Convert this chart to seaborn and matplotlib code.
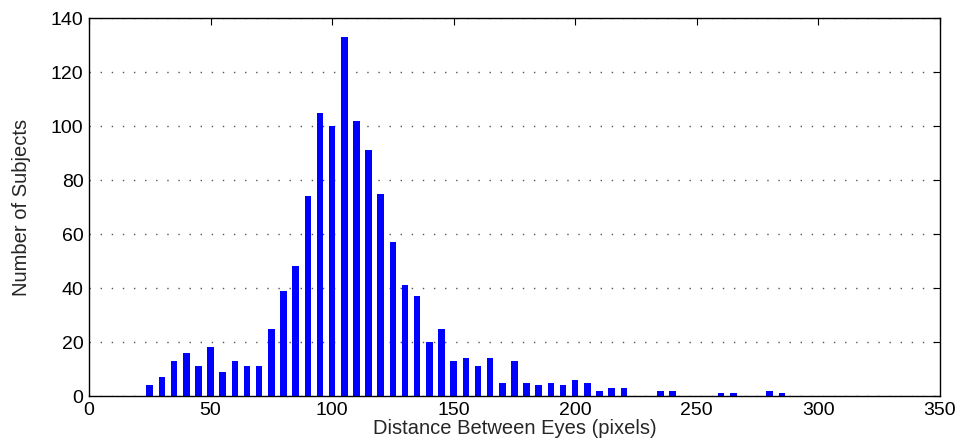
import matplotlib
matplotlib.use("Agg")
import matplotlib.pyplot as plt
import seaborn as sns
import pandas as pd

distance = [25, 30, 35, 40, 45, 50, 55, 60, 65, 70, 75, 80, 85, 90, 95, 100,
            105, 110, 115, 120, 125, 130, 135, 140, 145, 150, 155, 160, 165,
            170, 175, 180, 185, 190, 195, 200, 205, 210, 215, 220, 235, 240,
            260, 265, 280, 285]
subjects = [4, 7, 13, 16, 11, 18, 9, 13, 11, 11, 25, 39, 48, 74, 105, 100,
            133, 102, 91, 75, 57, 41, 37, 20, 25, 13, 14, 11, 14,
            5, 13, 5, 4, 5, 4, 6, 5, 2, 3, 3, 2, 2,
            1, 1, 2, 1]
x_ticks = [0, 50, 100, 150, 200, 250, 300, 350]
y_ticks = [0, 20, 40, 60, 80, 100, 120, 140]

sns.set_style("white")
plt.rcParams['font.family'] = ['Liberation Sans', 'DejaVu Sans']

df = pd.DataFrame({"distance": distance, "subjects": subjects})

fig = plt.figure(figsize=(9.61, 4.41), dpi=100)
ax = fig.add_axes([0.0926, 0.102, 0.8854, 0.857])
sns.barplot(data=df, x="distance", y="subjects", native_scale=True,
            color="#0000ff", saturation=1, width=0.54, ax=ax, edgecolor="none")

ax.set_xlim(0, 350)
ax.set_ylim(0, 140)
ax.set_xticks(x_ticks)
ax.set_yticks(y_ticks)
ax.set_xticklabels([str(t) for t in x_ticks])
ax.set_yticklabels([str(t) for t in y_ticks])
ax.tick_params(direction="in", top=True, right=True, length=5, width=0.8,
               labelsize=14, colors="black", pad=4)
ax.yaxis.grid(True, linestyle=(0, (1, 7)), color="#555555", linewidth=1.0)
ax.xaxis.grid(False)
ax.set_axisbelow(True)
for s in ax.spines.values():
    s.set_color("black")
    s.set_linewidth(1.0)
    s.set_visible(True)
ax.set_xlabel("Distance Between Eyes (pixels)", fontsize=14.5, labelpad=0)
ax.set_ylabel("Number of Subjects", fontsize=14.5, labelpad=14)

fig.savefig("out.png", dpi=100)
